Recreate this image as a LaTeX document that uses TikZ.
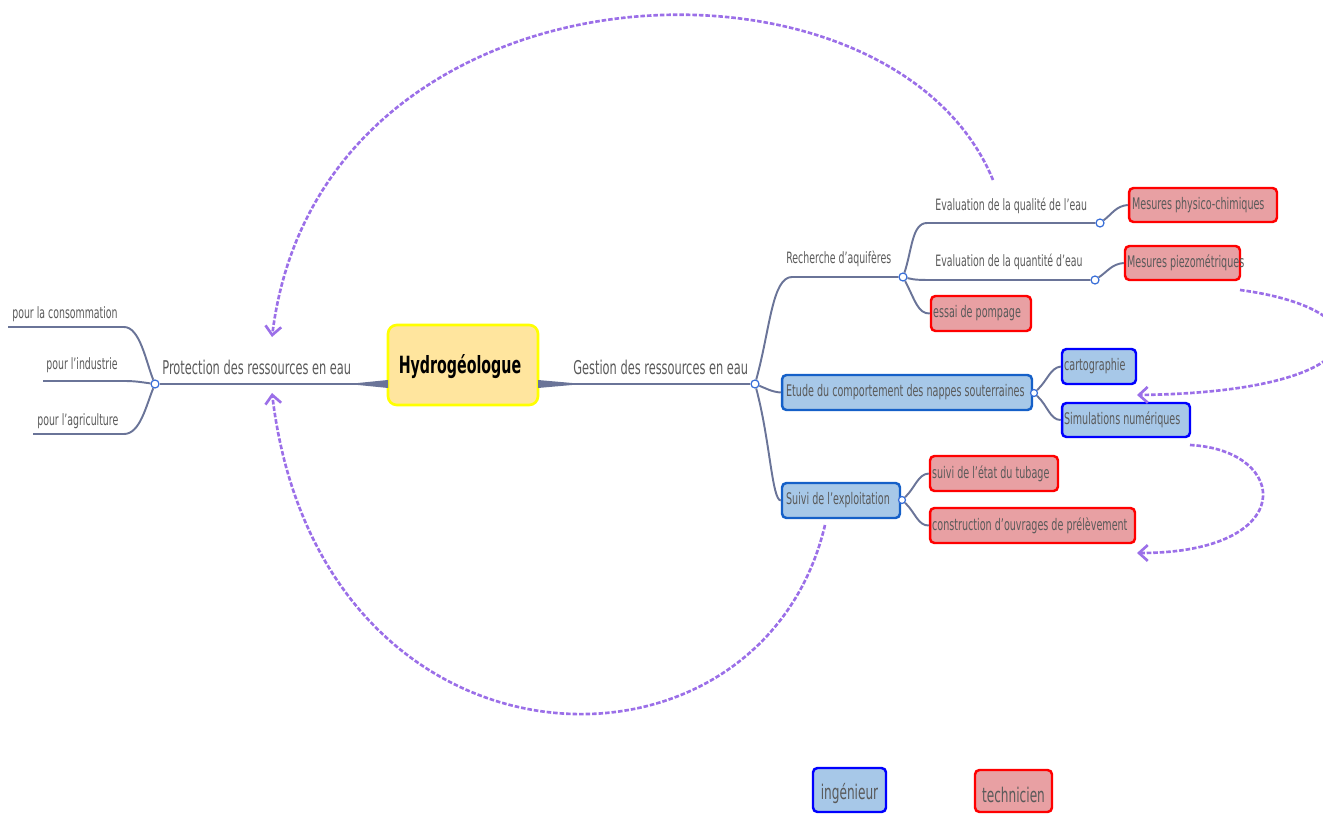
\documentclass[tikz,border=0pt]{standalone}
\usepackage{fontspec}
\setmainfont{DejaVu Sans}[FakeStretch=0.6]
\usetikzlibrary{arrows.meta}
\definecolor{linec}{HTML}{6A7498}
\definecolor{jct}{HTML}{3A6FD8}
\definecolor{bfill}{HTML}{A7C8E8}
\definecolor{bdraw}{HTML}{0000FF}
\definecolor{bdark}{HTML}{1560C8}
\definecolor{rfill}{HTML}{E8A0A3}
\definecolor{rdraw}{HTML}{FF0000}
\definecolor{yfill}{HTML}{FFE59E}
\definecolor{ydraw}{HTML}{FFFF00}
\definecolor{txtc}{HTML}{5A5A5A}
\definecolor{purp}{HTML}{9B6FE8}
\tikzset{
  conn/.style={draw=linec, line width=1.1pt},
  jn/.style={circle, draw=jct, fill=white, line width=0.7pt, minimum size=0.16cm, inner sep=0pt},
  bigl/.style={font=\fontsize{10.8}{13}\selectfont, text=txtc, inner sep=0pt},
  smll/.style={font=\fontsize{8.9}{10}\selectfont, text=txtc, inner sep=0pt},
  boxt/.style={font=\fontsize{9.1}{10}\selectfont, text=txtc, inner sep=0pt, anchor=west},
  bbox/.style={rectangle, rounded corners=2.5pt, fill=bfill, draw=bdraw, line width=1.4pt, inner sep=0pt},
  dbox/.style={rectangle, rounded corners=2.5pt, fill=bfill, draw=bdark, line width=1.4pt, inner sep=0pt},
  rbox/.style={rectangle, rounded corners=2.5pt, fill=rfill, draw=rdraw, line width=1.4pt, inner sep=0pt},
  rel/.style={draw=purp, line width=1.5pt, dash pattern=on 2.6pt off 1.1pt, -{Straight Barb[length=5pt,width=9pt,line width=1.5pt]}}
}
\begin{document}
\begin{tikzpicture}[x=0.02cm,y=-0.02cm]
\useasboundingbox (0,0) rectangle (1323,814);
\clip (0,0) rectangle (1323,814);

% central node
\node[rectangle, rounded corners=5pt, fill=yfill, draw=ydraw, line width=1.5pt,
      minimum width=3cm, minimum height=1.6cm, inner sep=0pt] (hydro) at (463,365) {};
\node[font=\bfseries\fontsize{13.5}{15}\selectfont, inner sep=0pt] (hydrot) at (460,367) {Hydrogéologue};

% junctions
\node[jn] (jl) at (155,384) {};
\node[jn] (jr) at (755,384) {};
\coordinate (hl) at (388,384);
\coordinate (hr) at (538,384);

% tapered stems
\fill[linec] (388,380) -- (388,388) -- (358,385) -- (358,383) -- cycle;
\fill[linec] (538,380) -- (538,388) -- (572,385) -- (572,383) -- cycle;
\draw[conn] (hl) -- (jl);
\draw[conn] (hr) -- (jr);

\node[bigl, anchor=base west] (prot) at (162,375) {Protection des ressources en eau};
\node[bigl, anchor=base west] (gest) at (573,375) {Gestion des ressources en eau};

% left leaves
\coordinate (c1) at (8,327);
\coordinate (c2) at (43,381);
\coordinate (c3) at (33,434);
\draw[conn] (jl) .. controls (146,362) and (140,327) .. (124,327) -- (c1);
\draw[conn] (jl) .. controls (140,382) and (135,381) .. (124,381) -- (c2);
\draw[conn] (jl) .. controls (146,406) and (140,434) .. (124,434) -- (c3);
\node[smll, anchor=base west] (l1) at (12,319) {pour la consommation};
\node[smll, anchor=base west] (l2) at (46,370) {pour l'industrie};
\node[smll, anchor=base west] (l3) at (37,425) {pour l'agriculture};

% right boxes
\node[dbox, minimum width=5cm, minimum height=0.7cm] (etude) at (907,392.5) {};
\node[boxt] (etudet) at ([xshift=0.1cm]etude.west) {Etude du comportement des nappes souterraines};
\node[dbox, minimum width=2.36cm, minimum height=0.7cm] (suivi) at (841,500.5) {};
\node[boxt] (suivit) at ([xshift=0.1cm]suivi.west) {Suivi de l'exploitation};

\node[rbox, minimum width=2.96cm, minimum height=0.68cm] (mpc) at (1203,205) {};
\node[boxt] (mpct) at ([xshift=0.08cm]mpc.west) {Mesures physico-chimiques};
\node[rbox, minimum width=2.3cm, minimum height=0.68cm] (mpz) at (1182.5,263) {};
\node[boxt] (mpzt) at ([xshift=0.06cm]mpz.west) {Mesures piezométriques};
\node[rbox, minimum width=2cm, minimum height=0.7cm] (essai) at (981,313.5) {};
\node[boxt] (essait) at ([xshift=0.06cm]essai.west) {essai de pompage};

\node[bbox, minimum width=1.48cm, minimum height=0.7cm] (carto) at (1099,366.5) {};
\node[boxt] (cartot) at ([xshift=0.06cm]carto.west) {cartographie};
\node[bbox, minimum width=2.56cm, minimum height=0.68cm] (simu) at (1126,420) {};
\node[boxt] (simut) at ([xshift=0.06cm]simu.west) {Simulations numériques};

\node[rbox, minimum width=2.56cm, minimum height=0.7cm] (tub) at (994,473.5) {};
\node[boxt] (tubt) at ([xshift=0.06cm]tub.west) {suivi de l'état du tubage};
\node[rbox, minimum width=4.1cm, minimum height=0.7cm] (cons) at (1032.5,525.5) {};
\node[boxt] (const) at ([xshift=0.06cm]cons.west) {construction d'ouvrages de prélèvement};

% second-level junctions
\node[jn] (jrech) at (903,277) {};
\node[jn] (jq) at (1100,223) {};
\node[jn] (jqt) at (1095,280) {};
\node[jn, minimum size=0.14cm] (je) at (1034,393) {};
\node[jn, minimum size=0.14cm] (js) at (902,500) {};

% right connectors
\draw[conn] (jr) .. controls (770,330) and (772,277) .. (792,277) -- (jrech);
\draw[conn] (jr) .. controls (765,388) and (772,392) .. (etude.west);
\draw[conn] (jr) .. controls (770,440) and (772,500) .. (suivi.west);
\draw[conn] (jrech) .. controls (912,250) and (912,223) .. (927,223) -- (jq);
\draw[conn] (jrech) .. controls (915,280) and (920,280) .. (935,280) -- (jqt);
\draw[conn] (jrech) .. controls (915,300) and (918,314) .. (essai.west);
\draw[conn] (jq) .. controls (1112,214) and (1116,206) .. (mpc.west);
\draw[conn] (jqt) .. controls (1108,271) and (1112,264) .. (mpz.west);
\draw[conn] (je) .. controls (1048,380) and (1050,368) .. (carto.west);
\draw[conn] (je) .. controls (1048,406) and (1050,420) .. (simu.west);
\draw[conn] (js) .. controls (915,488) and (918,474) .. (tub.west);
\draw[conn] (js) .. controls (915,512) and (918,526) .. (cons.west);

\node[smll, anchor=base west] (rech) at (786,264) {Recherche d'aquifères};
\node[smll, anchor=base west] (qual) at (935,211) {Evaluation de la qualité de l'eau};
\node[smll, anchor=base west] (quan) at (935,267) {Evaluation de la quantité d'eau};

% relation arrows
\coordinate (a1s) at (993,180);
\coordinate (a1e) at (272,337);
\coordinate (a2s) at (825,525);
\coordinate (a2e) at (272,393);
\coordinate (a3s) at (1240,290);
\coordinate (a3e) at (1137,395);
\coordinate (a4s) at (1190,445);
\coordinate (a4e) at (1137,553);
\draw[rel] (a1s) .. controls (890,-70) and (320,-50) .. (a1e);
\draw[rel] (a2s) .. controls (760,800) and (320,790) .. (a2e);
\draw[rel] (a3s) .. controls (1390,310) and (1380,392) .. (a3e);
\draw[rel] (a4s) .. controls (1290,450) and (1300,553) .. (a4e);

% legend
\node[bbox, minimum width=1.46cm, minimum height=0.88cm] (ing) at (849.5,790) {};
\node[font=\fontsize{11.5}{13}\selectfont, text=txtc, inner sep=0pt] (ingt) at (849.5,794) {ingénieur};
\node[rbox, minimum width=1.54cm, minimum height=0.84cm] (tech) at (1013.5,791) {};
\node[font=\fontsize{11.5}{13}\selectfont, text=txtc, inner sep=0pt] (techt) at (1013.5,795) {technicien};
\end{tikzpicture}
\end{document}
